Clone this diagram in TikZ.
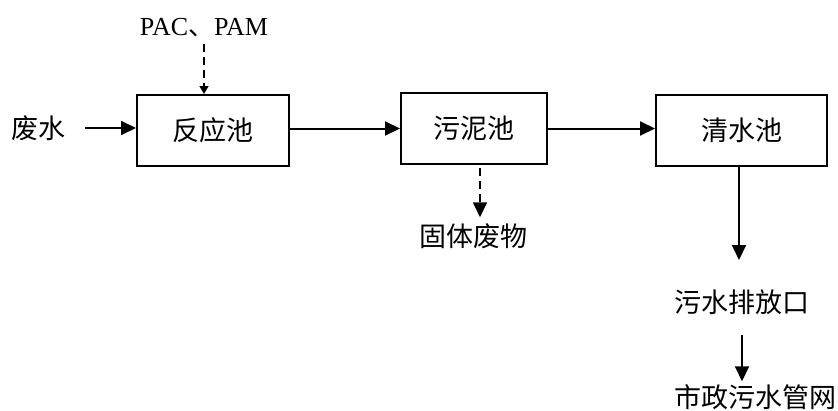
\documentclass[tikz,border=0pt]{standalone}
\usepackage{fontspec}
\setmainfont{Liberation Serif}
\newfontfamily\cjk{Noto Sans CJK SC}
\usetikzlibrary{arrows.meta}

\begin{document}
\begin{tikzpicture}[x=1pt,y=-1pt,
  pool/.style={draw,line width=2pt,minimum height=71pt,font=\cjk\fontsize{27}{30}\selectfont},
  tag/.style={font=\cjk\fontsize{27}{30}\selectfont,inner sep=0pt},
  flow/.style={line width=2pt,-{Triangle[length=15pt,width=14pt]}},
  dose/.style={line width=1.6pt,dash pattern=on 8pt off 5pt}]
\useasboundingbox (0,0) rectangle (838,410);

% the three pools
\node[pool,minimum width=152pt] (react) at (213,130.5) {反应池};
\node[pool,minimum width=146pt] (sludge) at (474,128.5) {污泥池};
\node[pool,minimum width=171pt] (clear) at (741.5,130.5) {清水池};

% inputs and outputs
\node[tag] (waste) at (38.5,128) {废水};
\node[font=\fontsize{26}{30}\selectfont,inner sep=0pt] (pac) at (204,28) {PAC{\cjk 、}PAM};
\node[tag] (solid) at (473.5,236) {固体废物};
\node[tag] (outlet) at (742,302) {污水排放口};
\node[tag] (city) at (755,397) {市政污水管网};

% main flow
\draw[flow] ([xshift=19pt]waste.east) -- (react.west |- waste.east);
\draw[flow] (react.east |- sludge.west) -- (sludge.west);
\draw[flow] (sludge.east) -- (clear.west |- sludge.east);
\draw[flow] ([xshift=-2.5pt]clear.south) -- ([xshift=-2.5pt]clear.south |- 0,260);
\draw[flow] (outlet.south) ++(0,20) -- ([yshift=3pt]outlet.south |- city.north);

% dosing and sludge removal
\draw[dose,-{Triangle[length=8pt,width=9pt]}] ([yshift=-6pt]pac.south) -- (pac.south |- react.north);
\draw[dose,-{Triangle[length=15pt,width=14pt]}] ([xshift=6pt,yshift=-3pt]sludge.south) -- ([xshift=6pt,yshift=6pt]sludge.south |- solid.north);
\end{tikzpicture}
\end{document}
